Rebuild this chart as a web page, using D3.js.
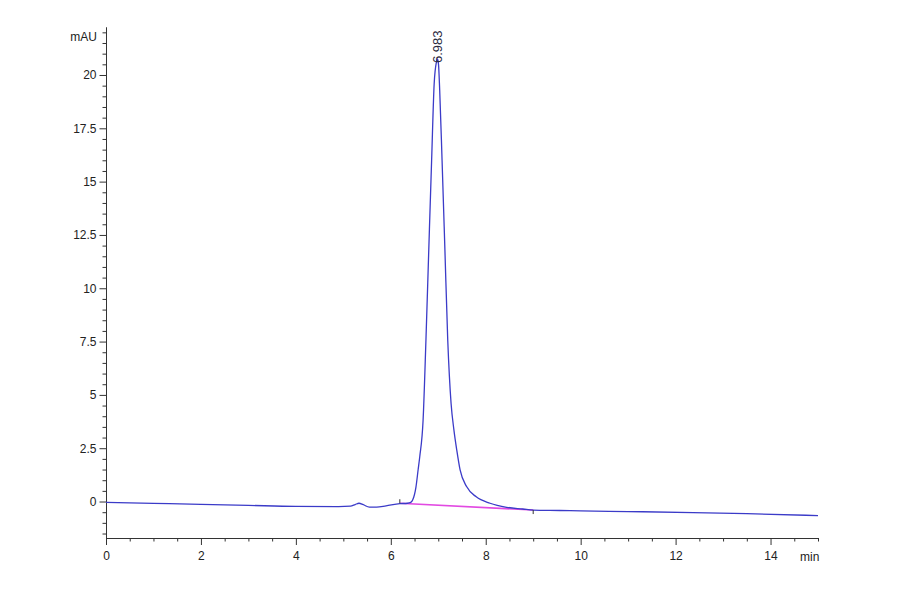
<!DOCTYPE html>
<html>
<head>
<meta charset="utf-8">
<script src="https://cdn.jsdelivr.net/npm/d3@7"></script>
<style>
  body { margin: 0; background: #fff; }
  svg { font-family: "Liberation Sans Narrow", "Liberation Sans", Arial, sans-serif; }
  .axis path, .axis line { stroke: #333; }
  .axis text { font-size: 12px; fill: #222; }
</style>
</head>
<body>
<svg></svg>
<script>
// chromatogram (min, mAU)
const times = [0, 1, 2, 3, 4, 4.9, 5.15, 5.25, 5.33, 5.42, 5.55, 5.7, 5.9, 6.19, 6.35, 6.42,
  6.46, 6.53, 6.575, 6.61, 6.68, 6.74, 6.8, 6.86, 6.914, 6.96, 6.983, 7.005, 7.03, 7.08, 7.14,
  7.2, 7.27, 7.33, 7.39, 7.46, 7.6, 7.8, 8.09, 8.44, 8.78, 9.0, 9.56, 10, 11, 12.37, 13.5, 15];
const signal = [-0.04, -0.085, -0.13, -0.18, -0.23, -0.24, -0.22, -0.14, -0.08, -0.15, -0.26, -0.26, -0.2, -0.1, -0.08, -0.04,
  0.07, 0.68, 1.48, 2.1, 3.8, 7.55, 11.8, 16.0, 19.6, 20.6, 20.75, 20.5, 19.3, 16.0, 11.8,
  7.55, 4.6, 3.35, 2.41, 1.48, 0.69, 0.22, -0.08, -0.27, -0.35, -0.4, -0.42, -0.44, -0.47, -0.52, -0.57, -0.66];

// integration baseline under the peak
const baseTimes = [6.19, 9.0];
const baseValues = [-0.08, -0.4];

const peakTime = 6.983, peakValue = 20.75, peakLabel = "6.983";

const xTicks = [0, 2, 4, 6, 8, 10, 12, 14];
const yTicks = [0, 2.5, 5, 7.5, 10, 12.5, 15, 17.5, 20];

const width = 900, height = 594;

const svg = d3.select("svg")
  .attr("width", width)
  .attr("height", height);

const x = d3.scaleLinear().domain([0, 15]).range([106, 818]);
const y = d3.scaleLinear().domain([-1.71, 22.25]).range([538, 27]);

// minor ticks every 0.5
const xMinor = d3.range(0, 15.01, 0.5).filter(d => d % 2 !== 0);
const yMinor = d3.range(-1.5, 22.01, 0.5).filter(d => d % 2.5 !== 0);

svg.append("g")
  .attr("class", "axis")
  .attr("transform", `translate(0,${y.range()[0]})`)
  .call(d3.axisBottom(x).tickValues(xMinor).tickSize(3.5).tickSizeOuter(0).tickFormat(""));

svg.append("g")
  .attr("class", "axis")
  .attr("transform", `translate(0,${y.range()[0]})`)
  .call(d3.axisBottom(x).tickValues(xTicks).tickSize(7).tickSizeOuter(0).tickPadding(6));

svg.append("g")
  .attr("class", "axis")
  .attr("transform", `translate(${x.range()[0]},0)`)
  .call(d3.axisLeft(y).tickValues(yMinor).tickSize(3.5).tickSizeOuter(0).tickFormat(""));

svg.append("g")
  .attr("class", "axis")
  .attr("transform", `translate(${x.range()[0]},0)`)
  .call(d3.axisLeft(y).tickValues(yTicks).tickSize(6.5).tickSizeOuter(0).tickPadding(3).tickFormat(d3.format("")));

// unit labels
svg.append("text")
  .attr("x", 97)
  .attr("y", 41)
  .attr("text-anchor", "end")
  .style("font-size", "12px")
  .attr("fill", "#222")
  .text("mAU");

svg.append("text")
  .attr("x", 800)
  .attr("y", 561)
  .style("font-size", "12px")
  .attr("fill", "#222")
  .text("min");

// baseline (magenta)
const baseData = baseTimes.map((t, i) => ({ t, v: baseValues[i] }));
svg.append("path")
  .datum(baseData)
  .attr("fill", "none")
  .attr("stroke", "#e24ae2")
  .attr("stroke-width", 1.6)
  .attr("d", d3.line().x(d => x(d.t)).y(d => y(d.v)));

// signal
const data = times.map((t, i) => ({ t, v: signal[i] }));
svg.append("path")
  .datum(data)
  .attr("fill", "none")
  .attr("stroke", "#3b3bc8")
  .attr("stroke-width", 1.3)
  .attr("d", d3.line().x(d => x(d.t)).y(d => y(d.v)).curve(d3.curveMonotoneX));

// integration start / end markers
svg.append("line")
  .attr("x1", x(baseTimes[0])).attr("x2", x(baseTimes[0]))
  .attr("y1", y(baseValues[0]) - 4).attr("y2", y(baseValues[0]))
  .attr("stroke", "#333").attr("stroke-width", 1);
svg.append("line")
  .attr("x1", x(baseTimes[1])).attr("x2", x(baseTimes[1]))
  .attr("y1", y(baseValues[1])).attr("y2", y(baseValues[1]) + 4)
  .attr("stroke", "#333").attr("stroke-width", 1);

// retention time label
svg.append("text")
  .attr("transform", `translate(${x(peakTime) + 4.5},${y(peakValue) + 4}) rotate(-90)`)
  .style("font-size", "13px")
  .style("font-family", "'Liberation Sans', Arial, sans-serif")
  .attr("fill", "#2a2a40")
  .text(peakLabel);
</script>
</body>
</html>
